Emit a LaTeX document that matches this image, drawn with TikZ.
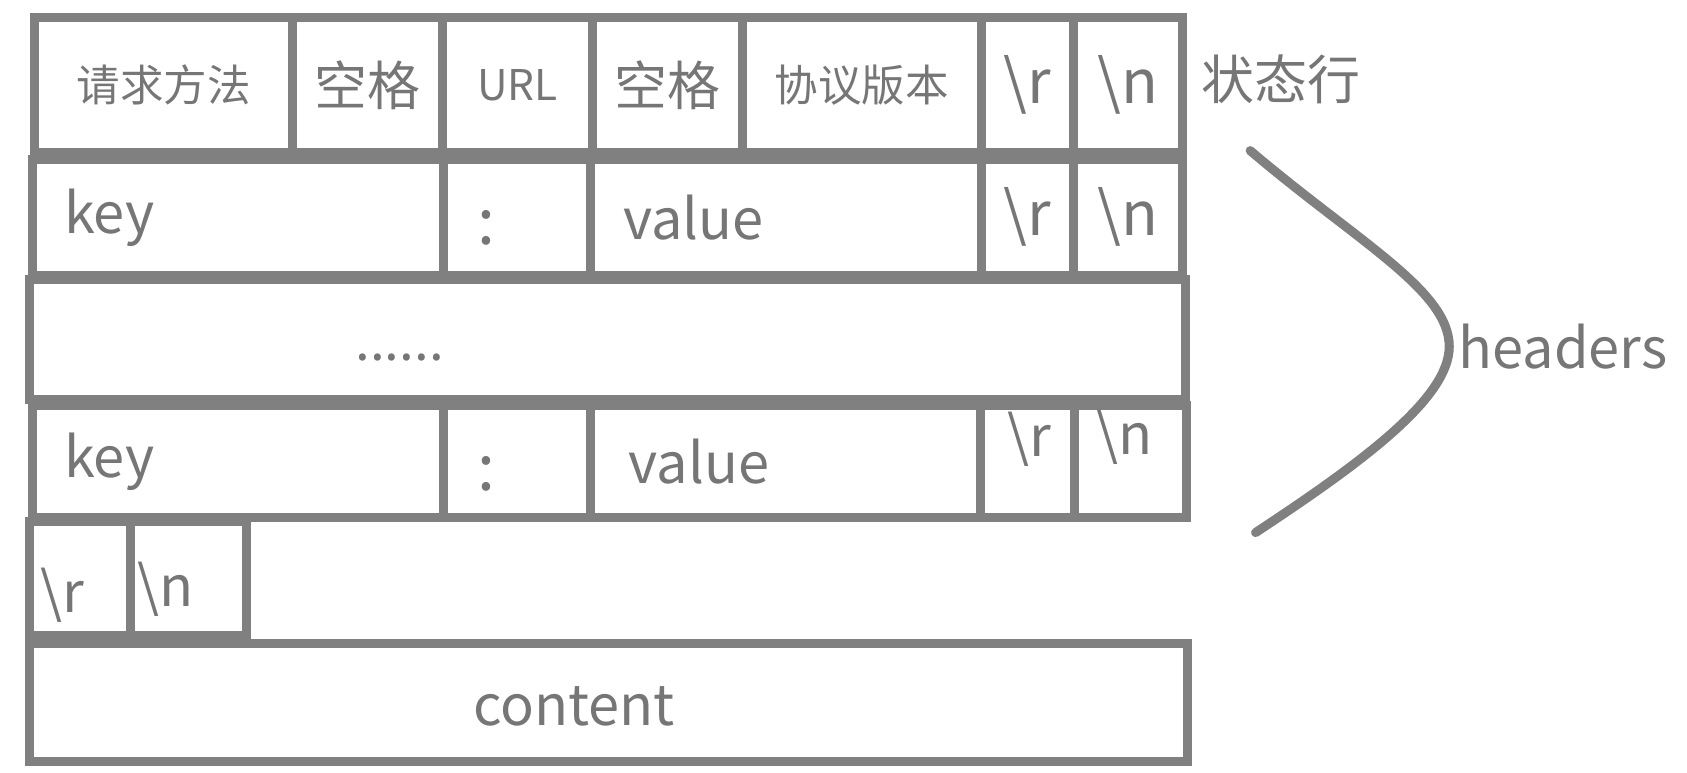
\documentclass[tikz,border=0pt]{standalone}
\usepackage{fontspec}
\setmainfont{Noto Sans CJK SC}
\usetikzlibrary{positioning}
\definecolor{linegray}{RGB}{128,128,128}
\definecolor{txtgray}{RGB}{118,118,118}
\begin{document}
\begin{tikzpicture}
\tikzstyle{cell}=[anchor=center,rectangle,draw=linegray,line width=2.4pt,inner sep=0pt,text=txtgray,font=\fontsize{16}{18}\selectfont]
\tikzstyle{cnsmall}=[cell,font=\fontsize{11.5}{13}\selectfont]
\tikzstyle{cnbig}=[cell,font=\fontsize{14}{16}\selectfont]
\tikzstyle{txt}=[text=txtgray,inner sep=0pt,font=\fontsize{14.8}{17}\selectfont]
\tikzstyle{brace}=[draw=linegray,line width=2.4pt,line cap=round]

\useasboundingbox (0,0) rectangle (15.68,-7.18);

% status line
\node [cnsmall,minimum width=2.40cm,minimum height=1.26cm] at (1.52,-0.79) (method) {请求方法};
\node [cnbig,minimum width=1.39cm,minimum height=1.26cm] at (3.415,-0.79) (sp1) {空格};
\node [cell,font=\fontsize{11.2}{13}\selectfont,minimum width=1.40cm,minimum height=1.26cm] at (4.81,-0.79) (url) {URL};
\node [cnbig,minimum width=1.39cm,minimum height=1.26cm] at (6.205,-0.79) (sp2) {空格};
\node [cnsmall,minimum width=2.22cm,minimum height=1.26cm] at (8.01,-0.79) (proto) {协议版本};
\node [cell,minimum width=0.86cm,minimum height=1.26cm] at (9.55,-0.79) (cr1) {\textbackslash r};
\node [cell,minimum width=1.01cm,minimum height=1.26cm] at (10.485,-0.79) (nl1) {\textbackslash n};
\node [txt,font=\fontsize{14}{16}\selectfont,anchor=west] at (11.16,-0.74) (status) {状态行};

% first header
\node [cell,minimum width=3.82cm,minimum height=1.08cm] at (2.21,-2.02) (key1) {};
\node [cell,minimum width=1.37cm,minimum height=1.08cm] at (4.805,-2.02) (col1) {};
\node [cell,minimum width=3.63cm,minimum height=1.08cm] at (7.305,-2.02) (val1) {};
\node [cell,minimum width=0.86cm,minimum height=1.08cm] at (9.55,-2.02) (cr2) {\textbackslash r};
\node [cell,minimum width=1.01cm,minimum height=1.08cm] at (10.485,-2.02) (nl2) {\textbackslash n};
\node [txt,right=0.33cm of key1.west] (keytxt1) {key};
\node [txt,font=\fontsize{17}{19}\selectfont] at ([xshift=-0.28cm,yshift=-0.10cm]col1.center) (coltxt1) {:};
\node [txt,right=0.34cm of val1.west] (valtxt1) {value};

% more headers
\node [cell,minimum width=10.75cm,minimum height=1.11cm] at (5.645,-3.155) (more) {};
\node [txt,font=\fontsize{14}{16}\selectfont,anchor=base] at ([xshift=-1.93cm,yshift=-0.20cm]more.center) (dots) {......};

% last header
\node [cell,minimum width=3.82cm,minimum height=1.04cm] at (2.21,-4.29) (key2) {};
\node [cell,minimum width=1.37cm,minimum height=1.04cm] at (4.805,-4.29) (col2) {};
\node [cell,minimum width=3.62cm,minimum height=1.04cm] at (7.30,-4.29) (val2) {};
\node [cell,minimum width=0.88cm,minimum height=1.04cm] at (9.55,-4.29) (cr3) {};
\node [cell,minimum width=1.04cm,minimum height=1.04cm] at (10.51,-4.29) (nl3) {};
\node [txt,right=0.33cm of key2.west] (keytxt2) {key};
\node [txt,font=\fontsize{17}{19}\selectfont] at ([xshift=-0.28cm,yshift=-0.11cm]col2.center) (coltxt2) {:};
\node [txt,right=0.39cm of val2.west] (valtxt2) {value};
\node [txt] at ([xshift=0.02cm,yshift=0.21cm]cr3.center) (crtxt3) {\textbackslash r};
\node [txt] at ([xshift=-0.06cm,yshift=0.23cm]nl3.center) (nltxt3) {\textbackslash n};

% empty line
\node [cell,minimum width=0.94cm,minimum height=1.06cm] at (0.74,-5.38) (cr4) {};
\node [cell,minimum width=1.08cm,minimum height=1.06cm] at (1.75,-5.38) (nl4) {};
\node [txt] at ([xshift=-0.16cm,yshift=-0.15cm]cr4.center) (crtxt4) {\textbackslash r};
\node [txt] at ([xshift=-0.21cm,yshift=-0.10cm]nl4.center) (nltxt4) {\textbackslash n};

% body
\node [cell,minimum width=10.77cm,minimum height=1.10cm] at (5.655,-6.53) (body) {};
\node [txt] at ([xshift=-0.32cm,yshift=-0.04cm]body.center) (bodytxt) {content};

% headers bracket
\coordinate (btop) at (11.62,-1.40);
\coordinate (bapex) at (13.47,-3.22);
\coordinate (bbot) at (11.67,-4.95);
\draw [brace] (btop) .. controls (12.62,-2.25) and (13.47,-2.70) .. (bapex)
  .. controls (13.47,-3.70) and (12.67,-4.29) .. (bbot);
\node [txt,right=0.08cm of bapex] (hdr) {headers};
\end{tikzpicture}
\end{document}
